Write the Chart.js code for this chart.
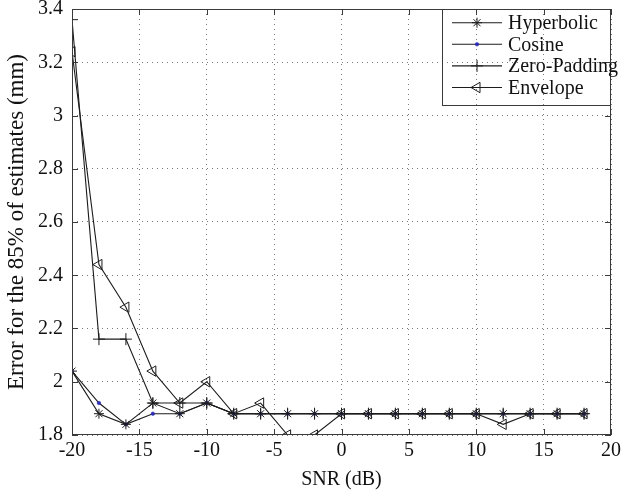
<!DOCTYPE html>
<html>
<head>
<meta charset="utf-8">
<script src="https://cdn.jsdelivr.net/npm/chart.js@4.4.1/dist/chart.umd.min.js"></script>
<style>
  html, body { margin: 0; padding: 0; background: #fff; }
</style>
</head>
<body>
<canvas id="chart" width="622" height="495"></canvas>
<script>
// SNR values (dB) where each method was evaluated
const snr = [-20, -18, -16, -14, -12, -10, -8, -6, -4, -2, 0, 2, 4, 6, 8, 10, 12, 14, 16, 18];

// error for the 85% of estimates (mm)
const hyperbolic  = [2.04, 1.88, 1.84, 1.92, 1.88, 1.92, 1.88, 1.88, 1.88, 1.88, 1.88, 1.88, 1.88, 1.88, 1.88, 1.88, 1.88, 1.88, 1.88, 1.88];
const cosine      = [2.04, 1.92, 1.84, 1.88, 1.88, 1.92, 1.88, 1.88, 1.88, 1.88, 1.88, 1.88, 1.88, 1.88, 1.88, 1.88, 1.88, 1.88, 1.88, 1.88];
const zeroPadding = [3.36, 2.16, 2.16, 1.92, 1.92, 1.92, 1.88, 1.88, 1.88, 1.88, 1.88, 1.88, 1.88, 1.88, 1.88, 1.88, 1.88, 1.88, 1.88, 1.88];
const envelope    = [3.24, 2.44, 2.28, 2.04, 1.92, 2.00, 1.88, 1.92, 1.80, 1.80, 1.88, 1.88, 1.88, 1.88, 1.88, 1.88, 1.84, 1.88, 1.88, 1.88];

const seriesNames = ['Hyperbolic', 'Cosine', 'Zero-Padding', 'Envelope'];

const xTicks = [-20, -15, -10, -5, 0, 5, 10, 15, 20];
const yTicks = [1.8, 2, 2.2, 2.4, 2.6, 2.8, 3, 3.2, 3.4];

const SERIF = '"Liberation Serif", "Times New Roman", serif';
const INK = '#1c1c1c';
const DOT_BLUE = '#2b2bb4';

function pts(values) {
  return values.map((v, i) => ({ x: snr[i], y: v }));
}

function lineSet(label, values, marker) {
  return Object.assign({
    label,
    data: pts(values),
    borderColor: INK,
    borderWidth: 1.1,
    backgroundColor: 'rgba(0,0,0,0)',
    pointBorderColor: INK,
    pointBackgroundColor: 'rgba(0,0,0,0)',
    pointBorderWidth: 1,
    tension: 0
  }, marker);
}

// matlab-like box, inward ticks and a legend in the upper right corner
const matlabFrame = {
  id: 'matlabFrame',
  afterDraw(chart) {
    const { ctx, chartArea: a, scales: { x, y } } = chart;
    ctx.save();
    ctx.strokeStyle = '#3a3a3a';
    ctx.lineWidth = 1;
    ctx.strokeRect(a.left + 0.5, a.top + 0.5, a.right - a.left - 1, a.bottom - a.top - 1);

    ctx.beginPath();
    xTicks.forEach(v => {
      const px = Math.round(x.getPixelForValue(v)) + 0.5;
      ctx.moveTo(px, a.bottom); ctx.lineTo(px, a.bottom - 6);
      ctx.moveTo(px, a.top); ctx.lineTo(px, a.top + 6);
    });
    yTicks.forEach(v => {
      const py = Math.round(y.getPixelForValue(v)) + 0.5;
      ctx.moveTo(a.left, py); ctx.lineTo(a.left + 6, py);
      ctx.moveTo(a.right, py); ctx.lineTo(a.right - 6, py);
    });
    ctx.stroke();

    // legend
    const w = 169, h = 97, rowH = 21.6;
    const lx = a.right - w, ly = a.top;
    ctx.strokeStyle = '#3a3a3a';
    ctx.strokeRect(lx + 0.5, ly + 0.5, w - 1, h - 1);
    ctx.font = '20px ' + SERIF;
    ctx.textBaseline = 'middle';
    ctx.textAlign = 'left';
    chart.data.datasets.forEach((ds, i) => {
      const cy = ly + 13.7 + i * rowH;
      ctx.strokeStyle = INK;
      ctx.lineWidth = 1.1;
      ctx.beginPath();
      ctx.moveTo(lx + 10, cy); ctx.lineTo(lx + 60, cy);
      ctx.stroke();
      ctx.strokeStyle = ds.pointBorderColor;
      ctx.fillStyle = ds.pointBackgroundColor;
      ctx.lineWidth = ds.pointBorderWidth;
      Chart.helpers.drawPoint(ctx, {
        pointStyle: ds.pointStyle,
        rotation: ds.pointRotation || 0,
        radius: ds.pointRadius,
        borderWidth: ds.pointBorderWidth
      }, lx + 35, cy);
      ctx.fillStyle = '#111';
      ctx.fillText(ds.label, lx + 66, cy + 1);
    });
    ctx.restore();
  }
};

const tickFont = { family: SERIF, size: 20 };

new Chart(document.getElementById('chart'), {
  type: 'line',
  data: {
    datasets: [
      lineSet(seriesNames[0], hyperbolic, { pointStyle: 'star', pointRadius: 5 }),
      lineSet(seriesNames[1], cosine, {
        pointStyle: 'circle', pointRadius: 1.8,
        pointBackgroundColor: DOT_BLUE, pointBorderColor: DOT_BLUE, pointBorderWidth: 0.5
      }),
      lineSet(seriesNames[2], zeroPadding, { pointStyle: 'cross', pointRadius: 6 }),
      lineSet(seriesNames[3], envelope, { pointStyle: 'triangle', pointRadius: 6, pointRotation: -90 })
    ]
  },
  options: {
    responsive: false,
    animation: false,
    devicePixelRatio: 1,
    layout: { padding: { left: 0, top: 9, right: 11, bottom: 0 } },
    plugins: { legend: { display: false }, tooltip: { enabled: false } },
    scales: {
      x: {
        type: 'linear',
        min: -20,
        max: 20,
        afterBuildTicks: s => { s.ticks = xTicks.map(v => ({ value: v })); },
        afterFit: s => { s.height = 60; s.paddingLeft = 0; s.paddingRight = 0; },
        grid: { color: '#7a7a7a', lineWidth: 1, drawTicks: false },
        border: { display: false, dash: [1, 4] },
        ticks: { color: '#111', font: tickFont, padding: 4, maxRotation: 0 },
        title: { display: true, text: 'SNR (dB)', color: '#111', font: tickFont, padding: { top: 0, bottom: 3 } }
      },
      y: {
        min: 1.8,
        max: 3.4,
        afterBuildTicks: s => { s.ticks = yTicks.map(v => ({ value: v })); },
        afterFit: s => { s.width = 72; s.paddingTop = 0; s.paddingBottom = 0; },
        grid: { color: '#7a7a7a', lineWidth: 1, drawTicks: false },
        border: { display: false, dash: [1, 4] },
        ticks: {
          color: '#111', font: tickFont, padding: 9,
          callback: v => String(Number(v.toFixed(1)))
        },
        title: {
          display: true, text: 'Error for the 85% of estimates (mm)', color: '#111',
          font: { family: SERIF, size: 23 }, padding: { top: 3.5, bottom: 0 }
        }
      }
    }
  },
  plugins: [matlabFrame]
});
</script>
</body>
</html>
